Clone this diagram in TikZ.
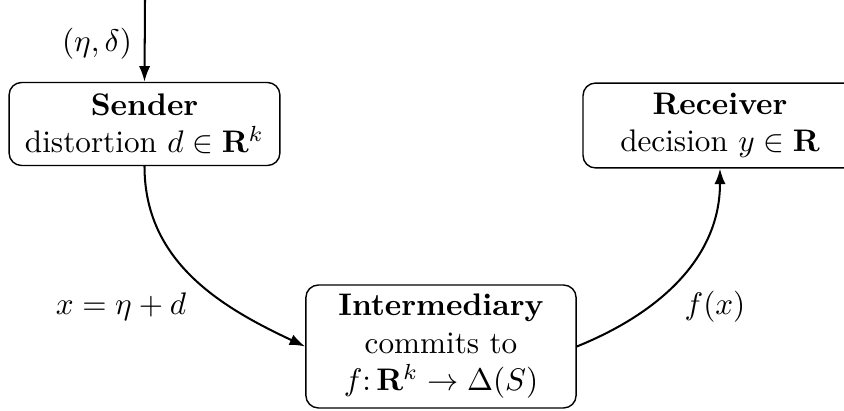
\documentclass[tikz,border=0pt]{standalone}
\usetikzlibrary{arrows.meta}
\begin{document}
\begin{tikzpicture}[x=0.3205pt,y=-0.3205pt,
  box/.style={draw,rounded corners=4pt,align=center,line width=0.45pt,inner sep=0pt},
  conn/.style={line width=0.65pt,-{Latex[length=5pt,width=3.6pt]}}]
\useasboundingbox (0,0) rectangle (844,411);
\node[box,minimum width=86.8pt,minimum height=26.6pt] (S) at (144.5,124)
  {\textbf{Sender}\\distortion $d\in\mathbf{R}^k$};
\node[box,minimum width=87.8pt,minimum height=27.2pt] (R) at (720,125.5)
  {\textbf{Receiver}\\decision $y\in\mathbf{R}$};
\node[box,minimum width=86.6pt,minimum height=39.4pt] (I) at (441,346.5)
  {\textbf{Intermediary}\\commits to\\$f\colon\mathbf{R}^k\to\Delta(S)$};
\coordinate (top) at (145,0);
\draw[conn] (top) -- (S.north);
\node (lab1) at (97,44) {$(\eta,\delta)$};
\draw[conn] (S.south) to[out=-90,in=155] (I.west);
\draw[conn] (I.east) to[out=22,in=-90] (R.south);
\node (lab2) at (121,307) {$x=\eta+d$};
\node (lab3) at (715,307) {$f(x)$};
\end{tikzpicture}
\end{document}
